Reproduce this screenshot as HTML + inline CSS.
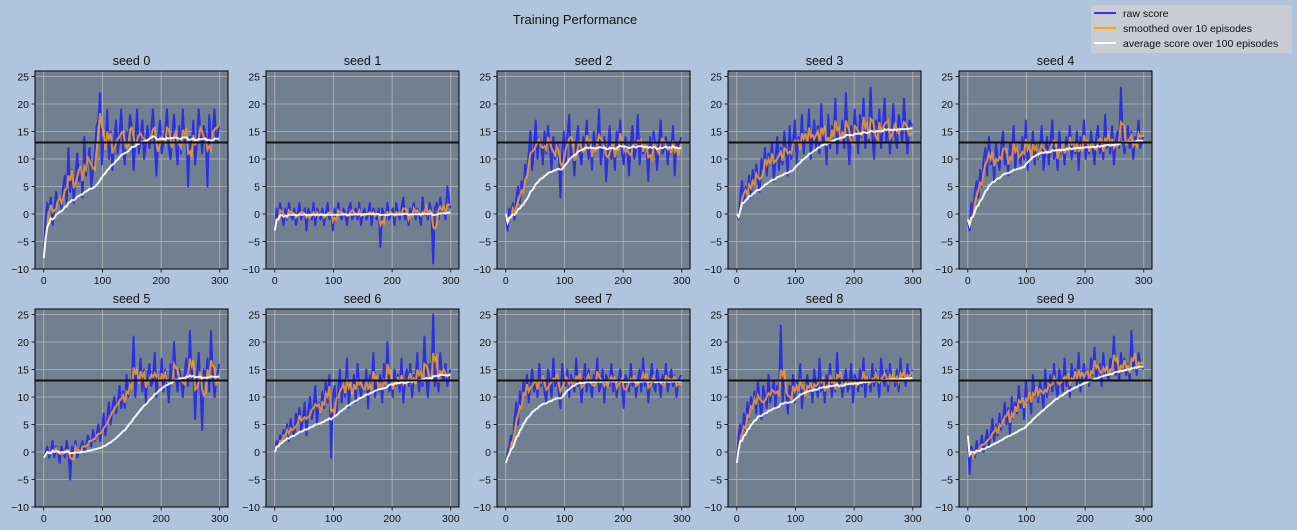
<!DOCTYPE html>
<html><head><meta charset="utf-8"><title>Training Performance</title>
<style>
html,body{margin:0;padding:0;background:#b0c4de;}
svg{display:block;font-family:"Liberation Sans","DejaVu Sans",sans-serif;}
</style></head>
<body>
<svg id="fig" width="1297" height="530" viewBox="0 0 1297 530">
<rect width="1297" height="530" fill="#b0c4de"/>
<text x="575" y="24" font-size="13" text-anchor="middle" fill="#111">Training Performance</text>
<g>
<rect x="1091" y="5" width="201" height="48" rx="2" fill="#c9ccd3"/>
<line x1="1094" y1="13" x2="1116" y2="13" stroke="#3333ff" stroke-width="2"/>
<text x="1123" y="17" font-size="10.5" fill="#111">raw score</text>
<line x1="1094" y1="28" x2="1116" y2="28" stroke="#ffa500" stroke-width="2"/>
<text x="1123" y="32" font-size="10.5" fill="#111">smoothed over 10 episodes</text>
<line x1="1094" y1="43" x2="1116" y2="43" stroke="#ffffff" stroke-width="2"/>
<text x="1123" y="47" font-size="10.5" fill="#111">average score over 100 episodes</text>
</g>
</svg>
<script>
const seedTitles = ["seed 0","seed 1","seed 2","seed 3","seed 4","seed 5","seed 6","seed 7","seed 8","seed 9"];
const episodeStep = 3;
const targetScore = 13;
const xTicks = [0,100,200,300];
const yTicks = [-10,-5,0,5,10,15,20,25];
const seed0 = [-8,-1,2,0,3,-2,1,4,2,3, 1,5,7,2,12,4,8,2,7,11, 6,9,3,14,7,10,12,5,8,11, 16,17,22,9,14,12,19,10,15,8, 13,17,11,14,19,12,9,15,13,18, 16,8,13,19,11,14,17,10,13,16, 12,15,19,13,7,14,17,11,13,15, 19,12,10,14,18,13,9,16,11,19, 13,15,5,14,12,17,9,13,19,15, 11,16,14,5,18,12,15,19,13,16];
const seed1 = [-3,1,-1,2,0,-2,1,-1,2,0, -1,1,-2,0,2,-1,0,1,-3,1, 0,-1,2,-2,1,0,-1,1,-2,0, 2,-1,0,-3,1,-1,2,0,-1,1, 0,-2,1,2,-1,0,1,-1,2,-2, 0,1,-1,0,2,-2,1,0,-1,1, -6,1,0,-1,2,-1,0,1,-2,2, 0,-1,1,3,-1,0,-2,1,0,2, -1,1,0,-2,3,0,1,-1,2,0, -9,1,2,-1,3,0,1,-1,5,1];
const seed2 = [0,-3,1,0,2,-1,3,5,2,6, 4,9,7,11,15,8,12,17,10,14, 13,9,15,11,16,12,8,14,10,13, 12,3,11,15,9,14,18,10,12,7, 13,16,11,9,14,12,17,10,13,8, 15,11,13,19,9,12,14,6,11,16, 10,13,8,15,12,17,11,9,14,12, 7,13,16,10,12,18,9,14,11,13, 12,6,14,10,15,12,8,13,17,11, 12,14,9,13,11,16,7,13,12,14];
const seed3 = [0,-1,3,6,2,5,4,7,3,8, 5,9,6,4,10,8,12,7,11,9, 13,6,10,14,8,12,9,15,11,7, 16,10,13,17,9,14,12,18,11,15, 13,19,10,14,17,12,16,11,20,13, 15,9,18,12,16,14,21,11,15,13, 17,12,22,14,9,16,13,19,15,11, 18,14,21,12,16,13,23,15,10,17, 14,19,12,16,21,13,17,11,15,20, 14,12,18,16,13,21,15,11,17,16];
const seed4 = [-1,-3,2,0,4,6,3,8,5,10, 12,7,14,9,11,6,13,10,8,12, 15,9,11,7,13,10,16,8,12,11, 9,14,10,17,8,12,11,15,9,13, 10,12,16,8,11,14,9,13,17,10, 12,8,15,11,13,9,14,12,16,10, 13,11,15,8,14,12,17,10,13,11, 15,12,9,14,16,11,13,10,18,12, 14,11,16,9,13,15,12,23,14,11, 13,16,12,15,10,14,13,17,12,14];
const seed5 = [-1,0,1,-1,0,2,-1,1,0,-2, 1,0,-1,2,0,-5,1,0,2,-1, 0,1,2,0,1,3,2,1,4,2, 3,5,2,4,7,3,6,9,5,8, 10,7,9,12,8,11,8,14,10,13, 12,21,10,14,13,17,11,15,9,14, 16,12,13,18,10,14,12,17,11,15, 13,9,16,12,20,14,11,15,13,10, 14,17,12,22,13,15,6,14,18,12, 4,15,13,17,11,22,14,10,13,16];
const seed6 = [0,2,1,3,2,4,3,5,2,6, 4,3,7,5,8,4,6,9,3,7, 10,6,8,12,5,9,7,11,8,13, 9,14,-1,10,12,7,11,15,9,13, 10,17,8,12,11,14,9,16,12,10, 13,11,15,8,14,12,18,10,13,11, 14,9,16,12,20,11,13,10,15,12, 14,11,17,9,13,15,12,16,10,14, 13,18,11,15,12,21,14,10,16,13, 25,12,15,11,18,14,13,16,12,15];
const seed7 = [-2,0,1,3,2,6,9,5,11,8, 13,10,14,9,12,15,11,13,10,16, 12,14,11,9,15,13,10,17,12,14, 11,8,16,13,12,15,10,14,13,11, 17,12,14,9,13,16,11,15,12,10, 14,13,17,11,12,15,9,14,13,12, 16,11,14,10,13,15,12,8,14,13, 11,16,12,14,10,13,15,11,17,12, 14,9,13,16,12,11,15,13,10,14, 12,16,11,13,15,12,14,10,13,14];
const seed8 = [-2,3,5,2,7,4,9,6,10,8, 11,7,13,9,6,12,10,8,14,9, 11,13,8,12,10,23,9,13,11,7, 12,10,14,9,13,11,16,8,12,10, 14,11,13,9,15,12,10,17,11,13, 9,14,12,16,10,13,11,18,12,14, 10,13,15,11,12,16,9,14,13,11, 15,12,17,10,14,13,11,16,12,15, 13,10,17,14,12,15,11,16,13,14, 12,15,11,17,13,14,12,16,13,15];
const seed9 = [3,-4,1,0,-1,2,0,1,3,0, 2,4,1,3,6,2,5,3,7,4, 6,9,5,8,3,10,6,9,7,12, 8,10,6,13,9,11,7,14,10,12, 9,13,11,8,15,10,12,14,11,16, 12,10,15,13,11,17,12,14,10,16, 13,15,12,18,11,14,16,13,15,12, 17,14,19,13,15,16,12,18,14,15, 13,17,15,21,14,16,13,18,15,17, 14,16,13,22,15,17,14,18,16,15];
const rawScores = [seed0,seed1,seed2,seed3,seed4,seed5,seed6,seed7,seed8,seed9];

const NS = "http://www.w3.org/2000/svg";
const fig = document.getElementById('fig');
function mk(tag, attrs, parent){const e=document.createElementNS(NS,tag);for(const k in attrs)e.setAttribute(k,attrs[k]);parent.appendChild(e);return e;}
function rolling(arr, w){return arr.map((v,i)=>{const s=Math.max(0,i-w+1);let t=0;for(let j=s;j<=i;j++)t+=arr[j];return t/(i-s+1);});}

const colLeft=[35,266,497,728,959], rowTop=[71,309], W=193, H=198;
const xMin=-15, xMax=314, yMin=-10, yMax=26;

rawScores.forEach((raw, idx)=>{
  const L=colLeft[idx%5], T=rowTop[Math.floor(idx/5)];
  const sx=v=>L+(v-xMin)/(xMax-xMin)*W;
  const sy=v=>T+H-(v-yMin)/(yMax-yMin)*H;
  const g=mk('g',{},fig);
  
  
  const bg=mk('rect',{x:L,y:T,width:W,height:H,fill:'#708090'},g);
  
  
  xTicks.forEach(t=>{
    const gl=mk('line',{x1:sx(t),x2:sx(t),y1:T,y2:T+H,stroke:'#b8b8b8','stroke-width':0.8},g);
    
    
    mk('line',{x1:sx(t),x2:sx(t),y1:T+H,y2:T+H+3.5,stroke:'#000','stroke-width':0.8},g);
    const tl=mk('text',{x:sx(t),y:T+H+15,'font-size':10.5,'text-anchor':'middle',fill:'#111'},g);
    tl.textContent=t;
    
    
  });
  yTicks.forEach(t=>{
    const gl=mk('line',{x1:L,x2:L+W,y1:sy(t),y2:sy(t),stroke:'#b8b8b8','stroke-width':0.8},g);
    
    
    mk('line',{x1:L-3.5,x2:L,y1:sy(t),y2:sy(t),stroke:'#000','stroke-width':0.8},g);
    const tl=mk('text',{x:L-6,y:sy(t)+4,'font-size':10.5,'text-anchor':'end',fill:'#111'},g);
    tl.textContent=(t<0?'\u2212'+Math.abs(t):t);
    
    
  });
  const smooth=rolling(raw, Math.round(10/episodeStep));
  const avg=rolling(raw, Math.round(100/episodeStep));
  const pts=a=>a.map((v,i)=>sx(i*episodeStep+(i===a.length-1?episodeStep-1:0)).toFixed(1)+','+sy(v).toFixed(1)).join(' ');
  const r=mk('polyline',{points:pts(raw),fill:'none',stroke:'#2020f0','stroke-opacity':0.85,'stroke-width':2,'stroke-linejoin':'round'},g);
  
  
  const s=mk('polyline',{points:pts(smooth),fill:'none',stroke:'#f0a020','stroke-opacity':0.85,'stroke-width':2},g);
  
  
  const a=mk('polyline',{points:pts(avg),fill:'none',stroke:'#ffffff','stroke-opacity':0.9,'stroke-width':2},g);
  
  
  const h=mk('line',{x1:L,x2:L+W,y1:sy(targetScore),y2:sy(targetScore),stroke:'#111','stroke-width':2},g);
  
  
  const fr=mk('rect',{x:L,y:T,width:W,height:H,fill:'none',stroke:'#000','stroke-width':1},g);
  
  
  const tt=mk('text',{x:L+W/2,y:T-6,'font-size':12.5,'text-anchor':'middle',fill:'#111'},g);
  tt.textContent=seedTitles[idx];
  
  
});
</script>
</body></html>
